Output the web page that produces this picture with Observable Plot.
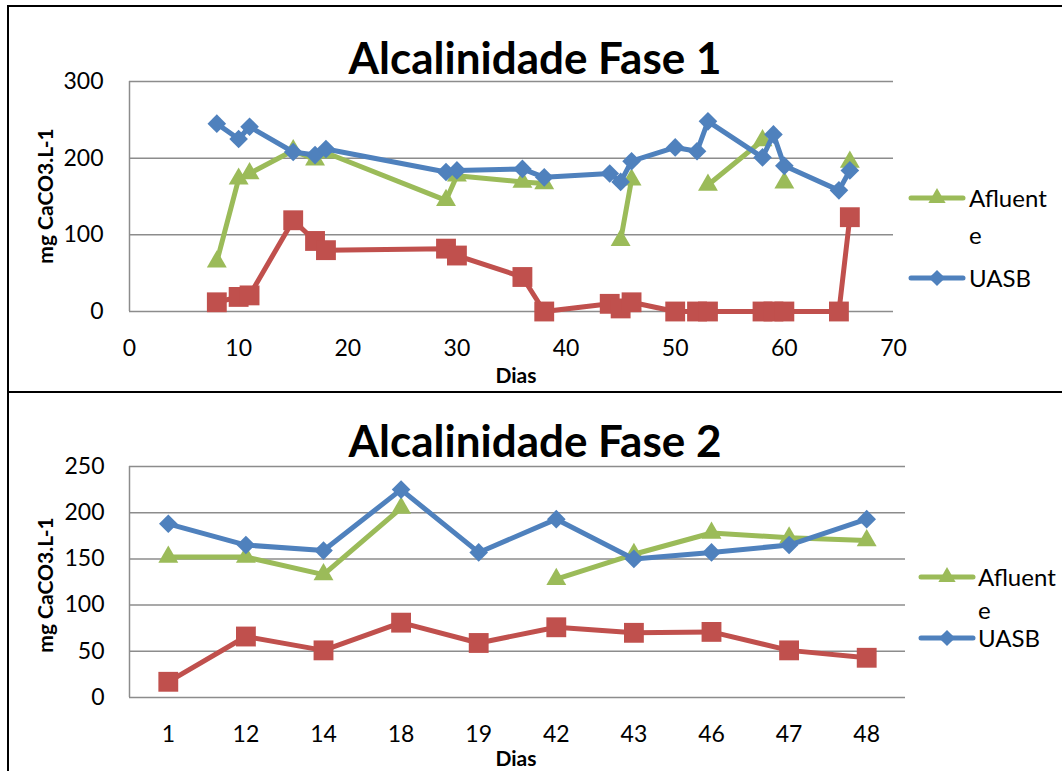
<!DOCTYPE html>
<html>
<head>
<meta charset="utf-8">
<script src="https://cdn.jsdelivr.net/npm/d3@7"></script>
<script src="https://cdn.jsdelivr.net/npm/@observablehq/plot@0.6"></script>
<style>
  html, body { margin: 0; padding: 0; background: #fff; }
  body { width: 1062px; height: 771px; position: relative; overflow: hidden; font-family: Lato, "Open Sans", sans-serif; color: #000; }
  .abs { position: absolute; }
  .c { transform: translate(-50%, -50%); white-space: nowrap; }
  .title { font-weight: bold; font-size: 44px; }
  .axlab { font-weight: bold; font-size: 21px; }
  .leg { font-size: 24px; line-height: 1; }
</style>
</head>
<body>
<div id="frame1" class="abs" style="left:7px; top:5px; width:1100px; height:384px; border-left:2px solid #000; border-top:2px solid #000; border-bottom:2px solid #000;"></div>
<div id="frame2" class="abs" style="left:7px; top:389px; width:2px; height:400px; background:#000;"></div>
<div id="chart1" class="abs" style="left:0; top:0;"></div>
<div id="chart2" class="abs" style="left:0; top:389px;"></div>

<div class="abs c title" style="left:535px; top:57px;">Alcalinidade Fase 1</div>
<div class="abs c axlab" style="left:516px; top:374px;">Dias</div>
<div class="abs c axlab" style="left:44px; top:196px; transform: translate(-50%,-50%) rotate(-90deg);">mg CaCO3.L-1</div>

<div class="abs c title" style="left:535px; top:440px;">Alcalinidade Fase 2</div>
<div class="abs c axlab" style="left:516px; top:757px;">Dias</div>
<div class="abs c axlab" style="left:44px; top:585px; transform: translate(-50%,-50%) rotate(-90deg);">mg CaCO3.L-1</div>

<div id="legend1" class="abs" style="left:908px; top:0;"></div>
<div id="legend2" class="abs" style="left:918px; top:0;"></div>

<script>
// ---------- Data: Fase 1 ----------
const daysF1 = [8, 10, 11, 15, 17, 18, 29, 30, 36, 38, 44, 45, 46, 50, 52, 53, 58, 59, 60, 65, 66];
const afluenteF1 = [65, 173, 180, 210, 198, 207, 145, 177, 169, 167, null, 93, 172, null, null, 165, 223, null, 168, null, 195];
const uasbF1 = [245, 225, 241, 208, 204, 212, 182, 184, 186, 175, 180, 169, 196, 214, 209, 248, 201, 231, 190, 158, 184];
const efluenteF1 = [12, 19, 21, 119, 92, 80, 82, 73, 45, 0, 10, 4, 12, 0, 0, 0, 0, 0, 0, 0, 123];
const xTicksF1 = [0, 10, 20, 30, 40, 50, 60, 70];
const yTicksF1 = [0, 100, 200, 300];

// ---------- Data: Fase 2 ----------
const daysF2 = ["1", "12", "14", "18", "19", "42", "43", "46", "47", "48"];
const afluenteF2 = [152, 152, 133, 205, null, 128, 155, 178, 173, 170];
const uasbF2 = [188, 165, 159, 225, 157, 193, 150, 157, 165, 193];
const efluenteF2 = [17, 66, 51, 81, 59, 76, 70, 71, 51, 43];
const yTicksF2 = [0, 50, 100, 150, 200, 250];

const seriesNames = ["Afluente", "UASB", "Efluente"];
const colors = {Afluente: "#9BBB59", UASB: "#4F81BD", Efluente: "#C0504D"};
const symbols = {Afluente: "triangle2", UASB: "diamond2", Efluente: "square"};
const radii = {Afluente: 9.5, UASB: 8.4, Efluente: 11.2};
const gridColor = "#8c8c8c";

function rows(xs, ys) { return xs.map((x, i) => ({x, y: ys[i]})); }

function seriesMarks(name, data) {
  return [
    Plot.line(data, {x: "x", y: "y", stroke: colors[name], strokeWidth: 5, strokeLinejoin: "round", strokeLinecap: "round"}),
    Plot.dot(data.filter(d => d.y != null), {x: "x", y: "y", symbol: () => symbols[name], r: radii[name], fill: colors[name], stroke: "none"})
  ];
}

const style = {fontFamily: "Lato, 'Open Sans', sans-serif", fontSize: "23px", color: "#000", background: "transparent", overflow: "visible"};

// ---------- Chart 1 ----------
const d1 = {Afluente: rows(daysF1, afluenteF1), UASB: rows(daysF1, uasbF1), Efluente: rows(daysF1, efluenteF1)};
const chart1 = Plot.plot({
  width: 1062, height: 389,
  marginLeft: 129, marginRight: 169, marginTop: 81, marginBottom: 78,
  style,
  x: {domain: [0, 70], label: null},
  y: {domain: [0, 300], label: null},
  marks: [
    Plot.ruleY(yTicksF1, {stroke: gridColor, strokeWidth: 1.5}),
    Plot.ruleX([0], {stroke: gridColor, strokeWidth: 1.5}),
    Plot.axisX({ticks: xTicksF1, tickSize: 0, tickPadding: 28, label: null}),
    Plot.axisY({ticks: yTicksF1, tickSize: 0, tickPadding: 26, label: null}),
    ...seriesNames.flatMap(n => seriesMarks(n, d1[n]))
  ]
});
document.getElementById("chart1").append(chart1);

// ---------- Chart 2 (categorical days, placed by index) ----------
const idx = d3.range(daysF2.length);
const d2 = {Afluente: rows(idx, afluenteF2), UASB: rows(idx, uasbF2), Efluente: rows(idx, efluenteF2)};
const chart2 = Plot.plot({
  width: 1062, height: 382,
  marginLeft: 129, marginRight: 157, marginTop: 77, marginBottom: 74,
  style,
  x: {domain: [-0.5, daysF2.length - 0.5], label: null},
  y: {domain: [0, 250], label: null},
  marks: [
    Plot.ruleY(yTicksF2, {stroke: gridColor, strokeWidth: 1.5}),
    Plot.ruleX([-0.5], {stroke: gridColor, strokeWidth: 1.5}),
    Plot.axisX({ticks: idx, tickFormat: i => daysF2[i], tickSize: 0, tickPadding: 28, label: null}),
    Plot.axisY({ticks: yTicksF2, tickSize: 0, tickPadding: 25, label: null}),
    ...seriesNames.flatMap(n => seriesMarks(n, d2[n]))
  ]
});
document.getElementById("chart2").append(chart2);

// ---------- Legends ----------
function swatch(name) {
  const ns = "http://www.w3.org/2000/svg";
  const svg = document.createElementNS(ns, "svg");
  svg.setAttribute("width", 58); svg.setAttribute("height", 22);
  svg.style.position = "absolute"; svg.style.left = "0"; svg.style.top = "-11px";
  const line = document.createElementNS(ns, "line");
  line.setAttribute("x1", 3); line.setAttribute("x2", 55); line.setAttribute("y1", 11); line.setAttribute("y2", 11);
  line.setAttribute("stroke", colors[name]); line.setAttribute("stroke-width", 5); line.setAttribute("stroke-linecap", "round");
  svg.append(line);
  const sym = {triangle2: d3.symbolTriangle2, diamond2: d3.symbolDiamond2, square: d3.symbolSquare}[symbols[name]];
  const p = document.createElementNS(ns, "path");
  p.setAttribute("d", d3.symbol(sym, Math.PI * radii[name] * radii[name] * 0.75)());
  p.setAttribute("transform", "translate(29,11)");
  p.setAttribute("fill", colors[name]);
  svg.append(p);
  return svg;
}
function legendItem(container, name, lines, y0, textX, lineGap) {
  const item = document.createElement("div");
  item.style.position = "absolute"; item.style.left = "0"; item.style.top = y0 + "px";
  item.append(swatch(name));
  lines.forEach((t, i) => {
    const s = document.createElement("div");
    s.className = "leg";
    s.style.position = "absolute"; s.style.left = textX + "px";
    s.style.top = (i * lineGap - 12) + "px";
    s.textContent = t;
    item.append(s);
  });
  container.append(item);
}
const L1 = document.getElementById("legend1");
legendItem(L1, "Afluente", ["Afluent", "e"], 198, 61, 37);
legendItem(L1, "UASB", ["UASB"], 278, 61, 37);
const L2 = document.getElementById("legend2");
legendItem(L2, "Afluente", ["Afluent", "e"], 577, 60, 33);
legendItem(L2, "UASB", ["UASB"], 638, 60, 33);
</script>
</body>
</html>
